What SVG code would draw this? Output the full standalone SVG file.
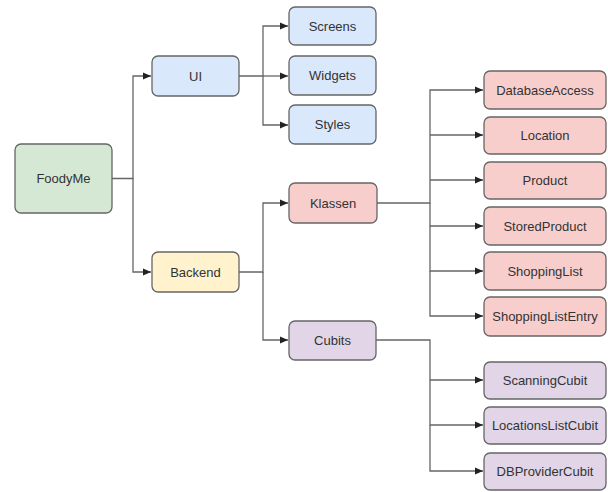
<svg xmlns="http://www.w3.org/2000/svg" width="608" height="492" viewBox="0 0 608 492">
<style>
.n rect{stroke:#666;stroke-width:1.3;rx:6;ry:6}
.n text{font-family:"Liberation Sans",Arial,sans-serif;font-size:13px;fill:#333;text-anchor:middle;dominant-baseline:central}
.g rect{fill:#d5e8d4}.b rect{fill:#dae8fc}.y rect{fill:#fff2cc}.r rect{fill:#f8cecc}.p rect{fill:#e1d5e7}
#edges path{fill:none;stroke:#666;stroke-width:1.3}
</style>
<defs>
<marker id="a" viewBox="0 0 8 8" refX="8" refY="4" markerWidth="8" markerHeight="8" markerUnits="userSpaceOnUse" orient="auto">
<path d="M0,0.5 L8,4 L0,7.5 Z" fill="#222"/>
</marker>
</defs>
<rect width="608" height="492" fill="#fff"/>
<g id="edges">
<path d="M112,178.5 H133 V76 H151" marker-end="url(#a)"/>
<path d="M133,178.5 V272 H151" marker-end="url(#a)"/>
<path d="M239,76 H263 V26 H288" marker-end="url(#a)"/>
<path d="M263,76 H288" marker-end="url(#a)"/>
<path d="M263,76 V125 H288" marker-end="url(#a)"/>
<path d="M239,272 H263 V203 H288" marker-end="url(#a)"/>
<path d="M263,272 V340 H288" marker-end="url(#a)"/>
<path d="M377,203 H430 V90 H483" marker-end="url(#a)"/>
<path d="M430,135 H483" marker-end="url(#a)"/>
<path d="M430,180 H483" marker-end="url(#a)"/>
<path d="M430,203 V226 H483" marker-end="url(#a)"/>
<path d="M430,226 V271 H483" marker-end="url(#a)"/>
<path d="M430,271 V316 H483" marker-end="url(#a)"/>
<path d="M376,340 H430 V380 H483" marker-end="url(#a)"/>
<path d="M430,380 V425 H483" marker-end="url(#a)"/>
<path d="M430,425 V471 H483" marker-end="url(#a)"/>
</g>
<g id="foodyme" class="n g"><rect x="15" y="144" width="97" height="69"/><text x="63.5" y="178.5">FoodyMe</text></g>
<g id="ui" class="n b"><rect x="152" y="56" width="87" height="40"/><text x="195.5" y="76">UI</text></g>
<g id="backend" class="n y"><rect x="152" y="252" width="87" height="40"/><text x="195.5" y="272">Backend</text></g>
<g id="screens" class="n b"><rect x="289" y="7" width="87" height="38"/><text x="332.5" y="26">Screens</text></g>
<g id="widgets" class="n b"><rect x="289" y="56" width="87" height="39"/><text x="332.5" y="75.5">Widgets</text></g>
<g id="styles" class="n b"><rect x="289" y="105" width="87" height="39"/><text x="332.5" y="124.5">Styles</text></g>
<g id="klassen" class="n r"><rect x="289" y="183" width="88" height="40"/><text x="333" y="203">Klassen</text></g>
<g id="cubits" class="n p"><rect x="289" y="321" width="87" height="39"/><text x="332.5" y="340.5">Cubits</text></g>
<g id="databaseaccess" class="n r"><rect x="484" y="71" width="122" height="38"/><text x="545" y="90">DatabaseAccess</text></g>
<g id="location" class="n r"><rect x="484" y="117" width="122" height="37"/><text x="545" y="135.5">Location</text></g>
<g id="product" class="n r"><rect x="484" y="162" width="122" height="37"/><text x="545" y="180.5">Product</text></g>
<g id="storedproduct" class="n r"><rect x="484" y="207" width="122" height="38"/><text x="545" y="226">StoredProduct</text></g>
<g id="shoppinglist" class="n r"><rect x="484" y="252" width="122" height="38"/><text x="545" y="271">ShoppingList</text></g>
<g id="shoppinglistentry" class="n r"><rect x="484" y="297" width="122" height="39"/><text x="545" y="316.5">ShoppingListEntry</text></g>
<g id="scanningcubit" class="n p"><rect x="484" y="362" width="122" height="37"/><text x="545" y="380.5">ScanningCubit</text></g>
<g id="locationslistcubit" class="n p"><rect x="484" y="407" width="122" height="37"/><text x="545" y="425.5">LocationsListCubit</text></g>
<g id="dbprovidercubit" class="n p"><rect x="484" y="453" width="122" height="37"/><text x="545" y="471.5">DBProviderCubit</text></g>
</svg>
